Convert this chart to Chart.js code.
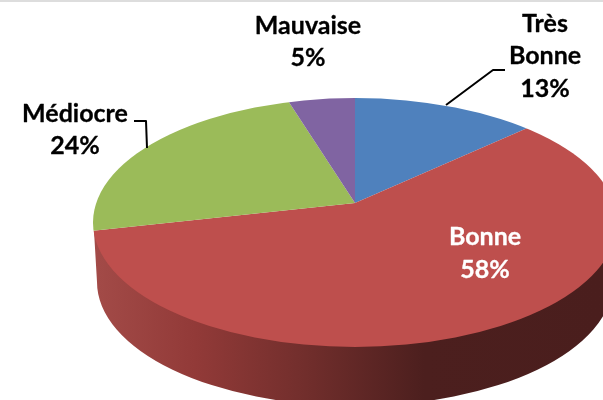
<!DOCTYPE html>
<html>
<head>
<meta charset="utf-8">
<script src="https://cdn.jsdelivr.net/npm/chart.js@4"></script>
<style>
html,body{margin:0;padding:0;background:#fff;overflow:hidden}
canvas{display:block}
</style>
</head>
<body>
<canvas id="c" width="603" height="400"></canvas>
<script>
const categories = ["Très Bonne", "Bonne", "Médiocre", "Mauvaise"];
const values = [13.2, 58.3, 23.7, 4.8];
const colors = ["#4F81BD", "#BE4F4D", "#9BBB59", "#8064A2"];

const labelLayout = [
  {lines:["Très","Bonne"], x:545, y:[24,56,89], color:"#000", leader:[[446,105],[493,70],[505,70]]},
  {lines:["Bonne"], x:485, y:[237,270], color:"#fff"},
  {lines:["Médiocre"], x:75, y:[114,146], color:"#000", leader:[[134,121],[146,121],[147,148]]},
  {lines:["Mauvaise"], x:308, y:[26,58], color:"#000"}
];

const tilt = {
  apexX:355, apexY:203, squash:0.475, zoom:3,
  topCx:355, topCy:222.5, topRx:262, topRy:124.5,
  wallCy:282, wallRx:258, wallRy:124
};

const pie3d = {
  id:"pie3d",
  beforeDatasetsDraw(chart){
    const ctx = chart.ctx, t = tilt;
    ctx.save();
    ctx.fillStyle = "#DDDDDD";
    ctx.fillRect(0,0,chart.width,2);
    const g = ctx.createLinearGradient(93,0,603,0);
    g.addColorStop(0,"#A34B48");
    g.addColorStop(0.2,"#923A38");
    g.addColorStop(0.4,"#742F2D");
    g.addColorStop(0.65,"#4C1F1E");
    g.addColorStop(1,"#4A1E1D");
    ctx.fillStyle = g;
    ctx.beginPath();
    ctx.moveTo(94,231);
    ctx.lineTo(t.topCx-t.wallRx,t.wallCy);
    ctx.ellipse(t.topCx,t.wallCy,t.wallRx,t.wallRy,0,Math.PI,0,true);
    ctx.lineTo(t.topCx+t.topRx,t.topCy);
    ctx.closePath();
    ctx.fill();
    ctx.restore();

    const arc = chart.getDatasetMeta(0).data[0];
    ctx.save();
    ctx.beginPath();
    ctx.ellipse(t.topCx,t.topCy,t.topRx,t.topRy,0,0,Math.PI*2);
    ctx.clip();
    ctx.translate(t.apexX,t.apexY);
    ctx.scale(t.zoom,t.zoom*t.squash);
    ctx.translate(-arc.x,-arc.y);
  },
  afterDatasetsDraw(chart){
    const ctx = chart.ctx;
    ctx.restore();
    ctx.save();
    ctx.font = "bold 25px Lato, 'Liberation Sans', sans-serif";
    ctx.textAlign = "center";
    ctx.textBaseline = "middle";
    ctx.lineJoin = "round";
    labelLayout.forEach((l,i)=>{
      ctx.fillStyle = l.color;
      ctx.strokeStyle = l.color;
      ctx.lineWidth = 0.3;
      const rows = l.lines.concat([Math.round(values[i])+"%"]);
      rows.forEach((r,j)=>{
        ctx.fillText(r,l.x,l.y[j]);
        ctx.strokeText(r,l.x,l.y[j]);
      });
      if(l.leader){
        ctx.strokeStyle = "#000";
        ctx.lineWidth = 2;
        ctx.beginPath();
        l.leader.forEach((p,k)=>k?ctx.lineTo(p[0],p[1]):ctx.moveTo(p[0],p[1]));
        ctx.stroke();
      }
    });
    ctx.restore();
  }
};

new Chart(document.getElementById("c"),{
  type:"pie",
  data:{labels:categories,datasets:[{data:values,backgroundColor:colors,borderWidth:0}]},
  options:{
    responsive:false,
    animation:false,
    plugins:{legend:{display:false},tooltip:{enabled:false}}
  },
  plugins:[pie3d]
});
</script>
</body>
</html>
